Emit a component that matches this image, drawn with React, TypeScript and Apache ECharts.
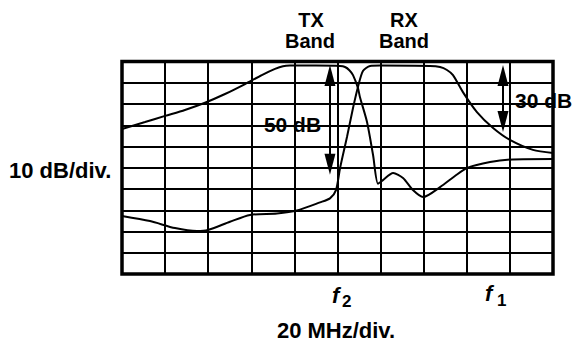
import React, { useEffect, useRef } from "react";
import * as echarts from "echarts";

// Frequency offset (MHz, 20 MHz/div) and response (dB, 10 dB/div)
const txFreq = [0, 10.7, 20.0, 29.2, 38.5, 47.8, 57.1, 64.9, 71.0, 74.7, 77.9, 90.0, 101.2, 103.5, 105.5, 107.2, 109.5, 110.4, 113.7, 116.5, 118.8, 121.1, 125.8, 130.4, 135.0, 139.7, 147.6, 154.5, 160.1, 170.8, 181.4, 200];
const txDb = [-31.8, -28.5, -25.6, -22.8, -19.4, -15.3, -10.6, -6.4, -3.5, -2.2, -1.9, -1.9, -2.1, -2.6, -4.1, -6.4, -12.5, -16.7, -28.5, -44.0, -57.5, -55.8, -52.5, -54.8, -60.5, -63.8, -59.1, -53.9, -50.1, -47.3, -46.1, -45.9];

const rxFreq = [0, 13.0, 24.6, 34.8, 39.9, 50.1, 59.4, 71.9, 81.2, 91.9, 96.5, 99.3, 101.2, 104.4, 107.2, 109.5, 111.8, 115.1, 119.7, 142.9, 147.6, 150.8, 153.6, 158.2, 164.7, 172.2, 180.0, 190.7, 200];
const rxDb = [-72.7, -75.1, -78.4, -79.8, -79.3, -75.4, -72.2, -71.5, -70.1, -66.3, -64.4, -60.5, -50.1, -35.5, -21.9, -12.0, -4.5, -2.1, -1.9, -2.1, -2.6, -4.0, -6.4, -14.4, -23.8, -31.3, -36.9, -41.6, -43.1];

// Annotation arrows: [freq, dbFrom, dbTo]
const arrow50 = [96.5, -6.6, -48.4];
const arrow30 = [176.8, -6.6, -28.2];

const xMin = 0, xMax = 200, xStep = 20;
const yMin = -100, yMax = 0, yStep = 10;

const FONT = '"Liberation Sans", Arial, Helvetica, sans-serif';

function txt(text: string, x: number, y: number, align: string, size = 21, italic = false) {
  return {
    type: "text",
    z: 100,
    style: {
      text,
      x,
      y,
      font: `${italic ? "italic " : ""}bold ${size}px ${FONT}`,
      fill: "#000",
      align,
      verticalAlign: "middle",
      textAlign: align,
      textVerticalAlign: "middle",
    },
  };
}

export default function App() {
  const ref = useRef<HTMLDivElement>(null);
  useEffect(() => {
    if (!ref.current) return;
    const chart = echarts.init(ref.current, undefined, { renderer: "svg" });
    const tx = txFreq.map((f, i) => [f, txDb[i]]);
    const rx = rxFreq.map((f, i) => [f, rxDb[i]]);
    const arrowLine = (a: number[]) => [
      { coord: [a[0], a[1]] },
      { coord: [a[0], a[2]] },
    ];
    chart.setOption({
      animation: false,
      backgroundColor: "#fff",
      grid: {
        left: 122,
        top: 61.5,
        right: 20,
        bottom: 68,
        show: true,
        borderColor: "#000",
        borderWidth: 3.5,
        backgroundColor: "transparent",
      },
      xAxis: {
        type: "value",
        min: xMin,
        max: xMax,
        interval: xStep,
        axisLabel: { show: false },
        axisTick: { show: false },
        axisLine: { show: false },
        splitLine: { show: true, lineStyle: { color: "#000", width: 2 } },
      },
      yAxis: {
        type: "value",
        min: yMin,
        max: yMax,
        interval: yStep,
        axisLabel: { show: false },
        axisTick: { show: false },
        axisLine: { show: false },
        splitLine: { show: true, lineStyle: { color: "#000", width: 2 } },
      },
      series: [
        {
          name: "TX",
          type: "line",
          data: tx,
          showSymbol: false,
          symbol: "none",
          smooth: 0.25,
          lineStyle: { color: "#000", width: 2 },
          z: 5,
          markLine: {
            silent: true,
            symbol: ["triangle", "triangle"],
            symbolSize: [11, 21],
            label: { show: false },
            lineStyle: { color: "#000", width: 2, type: "solid" },
            itemStyle: { color: "#000" },
            data: [arrowLine(arrow50), arrowLine(arrow30)],
          },
        },
        {
          name: "RX",
          type: "line",
          data: rx,
          showSymbol: false,
          symbol: "none",
          smooth: 0.25,
          lineStyle: { color: "#000", width: 2 },
          z: 5,
        },
      ],
      graphic: [
        txt("TX", 311, 19.5, "center", 20),
        txt("Band", 310, 40.5, "center", 20),
        txt("RX", 404, 19.5, "center", 20),
        txt("Band", 404, 40.5, "center", 20),
        txt("50 dB", 292.5, 124.5, "center"),
        txt("30 dB", 515, 100, "left"),
        txt("10 dB/div.", 9, 170, "left", 22),
        txt("20 MHz/div.", 336, 330.5, "center", 22),
        txt("f", 332, 295, "left", 22, true),
        txt("2", 342, 301, "left", 17),
        txt("f", 485, 293, "left", 22, true),
        txt("1", 497, 300, "left", 17),
      ],
    });
    return () => chart.dispose();
  }, []);
  return (
    <div
      ref={ref}
      style={{ position: "fixed", left: 0, top: 0, width: 573, height: 342, background: "#fff" }}
    />
  );
}
